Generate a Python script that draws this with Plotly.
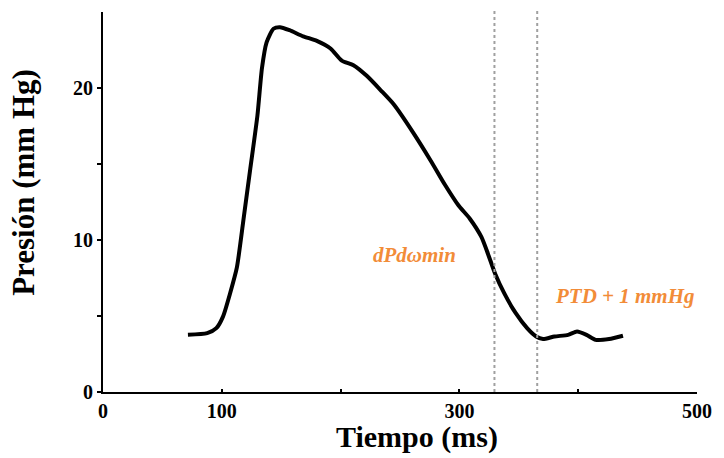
import plotly.graph_objects as go

# Pressure curve (ms, mmHg)
tiempo = [71.5, 87.7, 95.4, 101, 107, 112.7, 118.5, 124, 130, 133.8, 137.7, 143.5, 149, 157,
          168.5, 180, 191.5, 201, 210.8, 222, 233.8, 245, 260.8, 276, 287.7, 299, 308.8,
          318.5, 324, 330, 337.7, 347.3, 357, 364.6, 370.4, 380, 391.5, 399, 407, 414.6,
          426, 437.7]
presion = [3.76, 3.87, 4.2, 4.96, 6.5, 8.2, 11.5, 14.7, 18.2, 21.3, 23.0, 23.9, 24.0, 23.8,
           23.4, 23.1, 22.6, 21.8, 21.5, 20.8, 19.85, 18.9, 17.1, 15.2, 13.65, 12.3, 11.4,
           10.2, 9.1, 7.8, 6.5, 5.2, 4.2, 3.65, 3.48, 3.65, 3.76, 3.98, 3.76, 3.43,
           3.48, 3.7]

marker_x = [329.5, 365.5]  # vertical dotted markers (ms)
labels_text = ["dPdωmin", "PTD + 1 mmHg"]
labels_x = [262, 439]
labels_y = [9.0, 6.3]

x_ticks = [0, 100, 200, 300, 400, 500]
x_ticktext = ["0", "100", "", "300", "", "500"]
y_ticks = [0, 5, 10, 15, 20]
y_ticktext = ["0", "", "10", "", "20"]

SERIF = "Liberation Serif, Times New Roman, serif"

fig = go.Figure()
fig.add_trace(go.Scatter(x=tiempo, y=presion, mode="lines",
                         line=dict(color="black", width=4, shape="spline", smoothing=0.6),
                         showlegend=False, hoverinfo="skip"))

for mx in marker_x:
    fig.add_shape(type="line", xref="x", yref="paper", x0=mx, x1=mx, y0=0, y1=1.01,
                  line=dict(color="#a0a0a0", width=2, dash="dot"))

for t, lx, ly in zip(labels_text, labels_x, labels_y):
    fig.add_annotation(x=lx, y=ly, xref="x", yref="y", text="<b><i>" + t + "</i></b>",
                       showarrow=False, font=dict(family=SERIF, size=21, color="#F28C38"))

fig.add_annotation(x=0.528, y=-0.118, xref="paper", yref="paper", yanchor="middle",
                   text="<b>Tiempo (ms)</b>", showarrow=False,
                   font=dict(family=SERIF, size=30, color="black"))
fig.add_annotation(x=-0.133, y=0.553, xref="paper", yref="paper", textangle=-90,
                   xanchor="center", yanchor="middle",
                   text="<b>Presión (mm Hg)</b>", showarrow=False,
                   font=dict(family=SERIF, size=31, color="black"))

fig.update_layout(
    width=724, height=458,
    margin=dict(l=103, r=21, t=12, b=66),
    plot_bgcolor="white", paper_bgcolor="white",
    xaxis=dict(range=[0, 500], tickvals=x_ticks, ticktext=x_ticktext,
               showgrid=False, zeroline=False, showline=True, linecolor="black", linewidth=2,
               ticks="inside", ticklen=3, tickwidth=2, tickcolor="black",
               tickfont=dict(family=SERIF, size=20, color="black", weight="bold")),
    yaxis=dict(range=[0, 25], tickvals=y_ticks, ticktext=y_ticktext,
               showgrid=False, zeroline=False, showline=True, linecolor="black", linewidth=2,
               ticks="outside", ticklen=4, tickwidth=2, tickcolor="black",
               tickfont=dict(family=SERIF, size=20, color="black", weight="bold")),
)

fig.write_html("out.html")
